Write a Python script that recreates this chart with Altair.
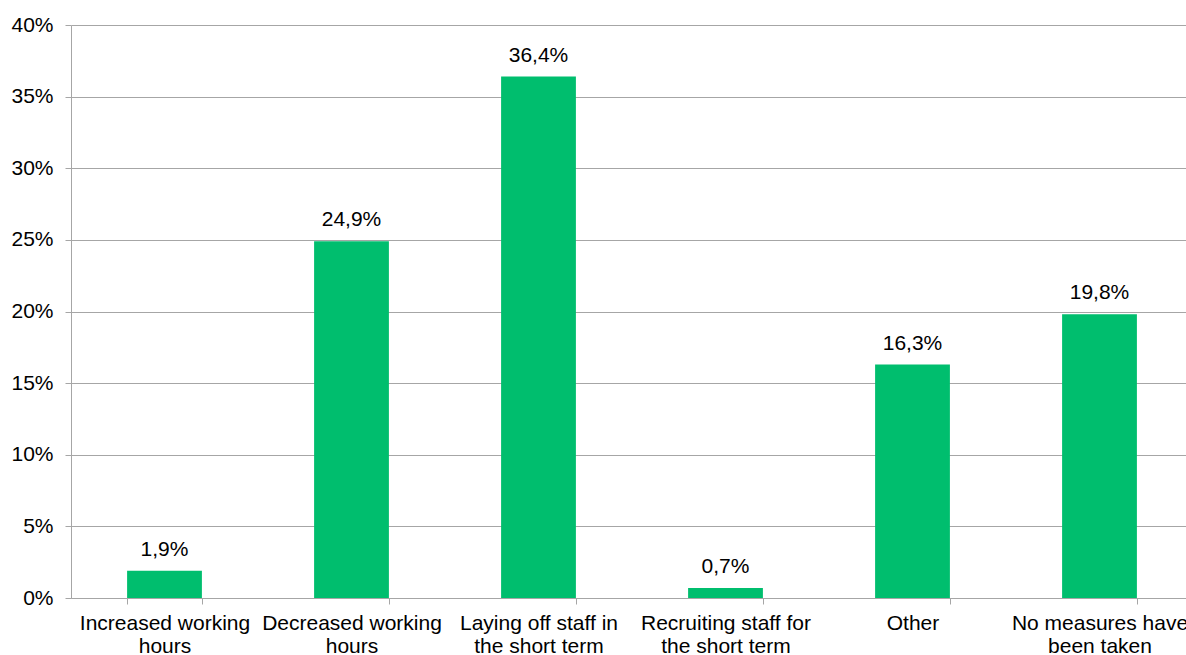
import altair as alt
import pandas as pd

categories = [
    "Increased working\nhours",
    "Decreased working\nhours",
    "Laying off staff in\nthe short term",
    "Recruiting staff for\nthe short term",
    "Other",
    "No measures have\nbeen taken",
]
values = [1.9, 24.9, 36.4, 0.7, 16.3, 19.8]
y_ticks = [0, 5, 10, 15, 20, 25, 30, 35, 40]

df = pd.DataFrame({"cat": categories, "val": values})

FONT = "Liberation Sans, Arial, sans-serif"
GRID = "#A6A6A6"

xscale = alt.Scale(range=[0, 1122], paddingInner=0.6, paddingOuter=0.3)
yscale = alt.Scale(domain=[0, 40], nice=False)

x = alt.X(
    "cat:N",
    sort=categories,
    scale=xscale,
    axis=alt.Axis(
        title=None,
        labelAngle=0,
        labelExpr="split(datum.label, '\\n')",
        labelFont=FONT,
        labelFontSize=21,
        labelColor="#000000",
        labelLineHeight=23,
        labelPadding=8,
        labelBaseline="top",
        tickBand="extent",
        tickSize=6,
        tickColor=GRID,
        domainColor=GRID,
        labelLimit=300,
        grid=False,
    ),
)

y = alt.Y(
    "val:Q",
    scale=yscale,
    axis=alt.Axis(
        title=None,
        values=y_ticks,
        labelExpr="datum.value + '%'",
        labelFont=FONT,
        labelFontSize=21,
        labelColor="#000000",
        labelPadding=12,
        tickSize=6,
        tickColor=GRID,
        domainColor=GRID,
        gridColor=GRID,
        grid=True,
    ),
)

bars = alt.Chart(df).mark_bar(color="#00BE6E").encode(x=x, y=y)

text = (
    alt.Chart(df)
    .transform_calculate(lab="replace(format(datum.val, '.1f'), '.', ',') + '%'")
    .mark_text(font=FONT, fontSize=21, color="#000000", baseline="alphabetic", dy=-15)
    .encode(x=alt.X("cat:N", sort=categories, scale=xscale), y=alt.Y("val:Q", scale=yscale), text="lab:N")
)

chart = (
    alt.layer(bars, text)
    .properties(
        width=1115,
        height=573,
        autosize=alt.AutoSizeParams(type="none"),
        padding={"left": 71, "top": 25, "right": 0, "bottom": 57},
        background="white",
    )
    .configure_view(stroke=None)
)

chart.save("out.html", embed_options={"renderer": "svg", "actions": False})
